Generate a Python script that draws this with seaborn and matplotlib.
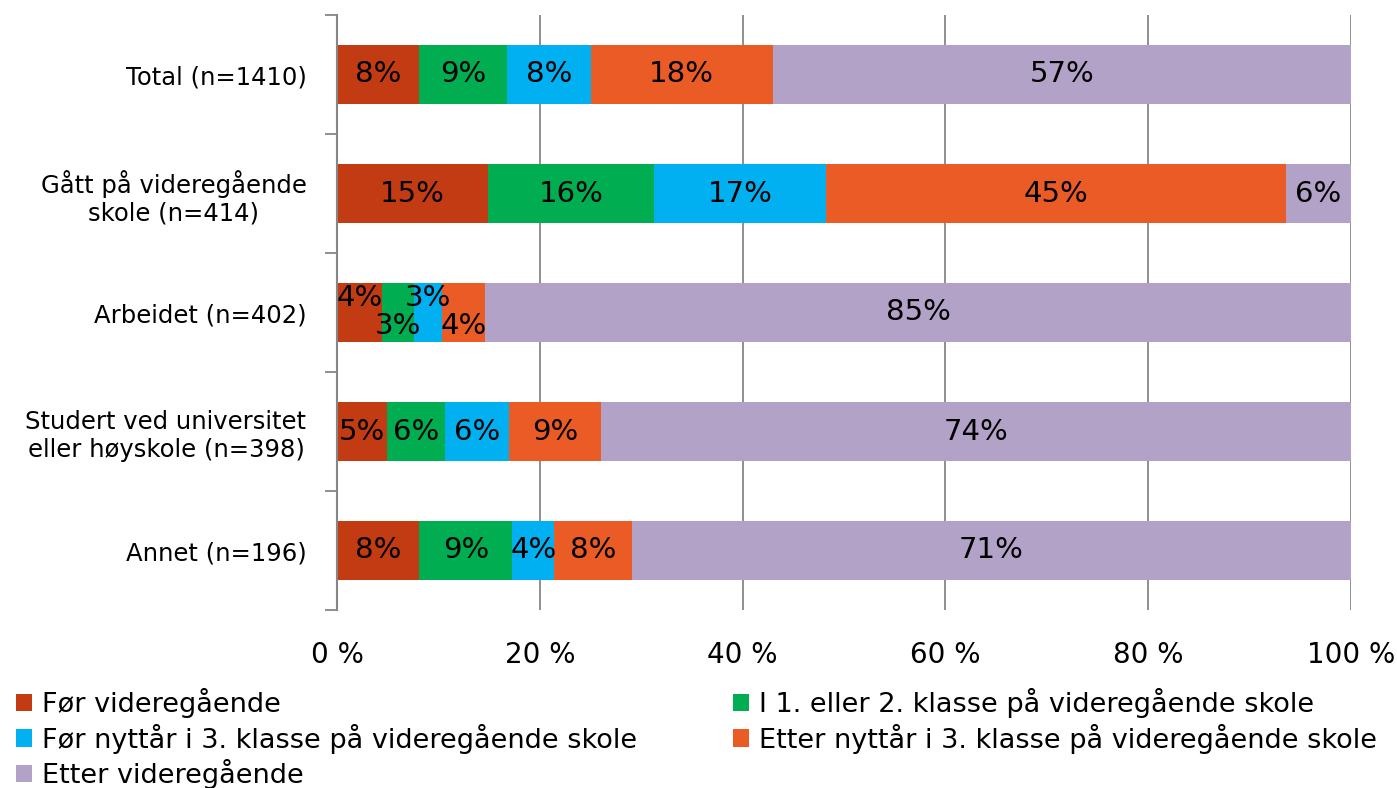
import matplotlib
matplotlib.use("Agg")
import matplotlib.pyplot as plt
import seaborn as sns
import numpy as np
import pandas as pd
from matplotlib.patches import Patch

categories = ["Total (n=1410)",
              "Gått på videregående\nskole (n=414)",
              "Arbeidet (n=402)",
              "Studert ved universitet\neller høyskole (n=398)",
              "Annet (n=196)"]
series = ["Før videregående",
          "I 1. eller 2. klasse på videregående skole",
          "Før nyttår i 3. klasse på videregående skole",
          "Etter nyttår i 3. klasse på videregående skole",
          "Etter videregående"]
for_vgs = [8.1, 14.9, 4.4, 4.9, 8.1]
klasse_1_2 = [8.7, 16.4, 3.2, 5.8, 9.2]
for_nyttar = [8.2, 16.9, 2.8, 6.3, 4.1]
etter_nyttar = [18.0, 45.4, 4.2, 9.0, 7.7]
etter_vgs = [57.0, 6.4, 85.4, 74.0, 70.9]
xticks = [0, 20, 40, 60, 80, 100]
xticklabels = ["0 %", "20 %", "40 %", "60 %", "80 %", "100 %"]

colors = ["#C33B12", "#00AD50", "#00B0F0", "#EA5B25", "#B3A2C8"]

sns.set_theme(style="white")
plt.rcParams['font.family'] = ['DejaVu Sans']
plt.rcParams['text.color'] = 'black'
plt.rcParams['xtick.color'] = 'black'
plt.rcParams['ytick.color'] = 'black'

vals = np.array([for_vgs, klasse_1_2, for_nyttar, etter_nyttar, etter_vgs]).T  # cats x series
cum = np.cumsum(vals, axis=1)

fig = plt.figure(figsize=(13.97, 7.88), dpi=100)
ax = fig.add_axes([337/1397, 1 - 610/788, (1351-337)/1397, (610-15)/788])

for i in reversed(range(len(series))):
    df = pd.DataFrame({"cat": categories, "val": cum[:, i]})
    sns.barplot(data=df, x="val", y="cat", orient="h", color=colors[i],
                saturation=1, width=0.49, linewidth=0, ax=ax, order=categories)

# data labels
offsets = {2: [-0.12, 0.11, -0.12, 0.11, 0.0]}
for r in range(len(categories)):
    for s in range(len(series)):
        v = vals[r, s]
        xc = cum[r, s] - v / 2
        dy = offsets.get(r, [0]*5)[s]
        ax.text(xc, r + dy, f"{int(round(v))}%", ha="center", va="center",
                fontsize=21, color="black")

ax.set_xlim(0, 100)
ax.set_ylim(4.5, -0.5)
ax.set_xlabel("")
ax.set_ylabel("")
ax.set_xticks(xticks)
ax.set_xticklabels(xticklabels, fontsize=20, color="black")
ax.tick_params(axis="x", length=0, pad=22)
ax.set_yticks(range(len(categories)))
ax.set_yticklabels(categories, fontsize=17.5, multialignment="center", color="black")
ax.tick_params(axis="y", which="major", length=0, pad=22)
ax.set_yticks(np.arange(-0.5, 5.0, 1.0), minor=True)
ax.tick_params(axis="y", which="minor", length=9, width=1.3, color="#868686", direction="out", left=True)

ax.set_axisbelow(True)
ax.xaxis.grid(True, color="#868686", linewidth=1.3)
ax.yaxis.grid(False)
for sp in ["top", "right", "bottom"]:
    ax.spines[sp].set_visible(False)
ax.spines["left"].set_color("#868686")
ax.spines["left"].set_linewidth(1.5)

handles = [Patch(facecolor=c, edgecolor="none") for c in colors]
leg_kw = dict(frameon=False, fontsize=19.5, handlelength=0.6, handleheight=0.6,
              handletextpad=0.35, labelspacing=0.2, borderpad=0, borderaxespad=0,
              labelcolor="black")
l1 = fig.legend([handles[0], handles[2], handles[4]], [series[0], series[2], series[4]],
                loc="upper left", bbox_to_anchor=(16/1397, 1 - 688/788), **leg_kw)
l2 = fig.legend([handles[1], handles[3]], [series[1], series[3]],
                loc="upper left", bbox_to_anchor=(733/1397, 1 - 688/788), **leg_kw)

fig.savefig("out.png", dpi=100)
